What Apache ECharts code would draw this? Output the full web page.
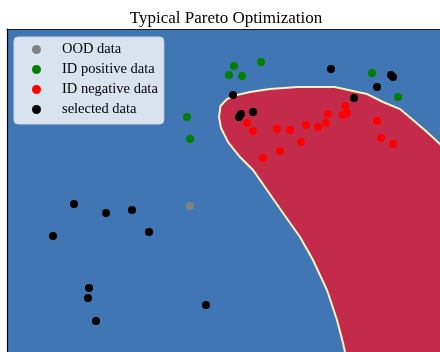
<!DOCTYPE html>
<html>
<head>
<meta charset="utf-8">
<script src="https://cdn.jsdelivr.net/npm/echarts@6/dist/echarts.min.js"></script>
<style>
  html, body { margin: 0; padding: 0; background: #ffffff; }
  #chart { width: 440px; height: 352px; }
</style>
</head>
<body>
<div id="chart"></div>
<script>
// Sample groups in feature space [x, y]
const oodData = [[3.66, 3.46]];

const idPositive = [
  [4.54, 6.26], [5.08, 6.34], [4.44, 6.08], [4.70, 6.06],
  [3.60, 5.24], [3.66, 4.80], [7.30, 6.12], [7.82, 5.64]
];

const idNegative = [
  [4.80, 5.12], [4.92, 4.96], [5.40, 5.00], [5.66, 4.98], [5.98, 5.08],
  [6.22, 5.04], [6.38, 5.12], [6.42, 5.30], [6.76, 5.46], [6.80, 5.32],
  [6.72, 5.28], [5.88, 4.74], [5.46, 4.56], [5.12, 4.42], [7.40, 5.16],
  [7.48, 4.82], [7.72, 4.70]
];

const selected = [
  [1.34, 3.50], [1.98, 3.32], [2.50, 3.38], [0.92, 2.86], [2.84, 2.94],
  [1.64, 1.82], [1.62, 1.62], [1.78, 1.16], [3.98, 1.48],
  [6.48, 6.20], [4.52, 5.68], [4.64, 5.24], [4.68, 5.30], [4.92, 5.34],
  [6.94, 5.62], [7.40, 5.84], [7.68, 6.08], [7.72, 6.04]
];

// Decision region (negative class) outline
const regionOutline = [
  [6.86, 0.00], [6.76, 0.54], [6.72, 0.72], [6.60, 1.18], [6.40, 1.78],
  [6.12, 2.38], [5.86, 2.84], [5.52, 3.32], [5.20, 3.78], [4.92, 4.18],
  [4.66, 4.44], [4.42, 4.74], [4.28, 5.02], [4.24, 5.24], [4.27, 5.46],
  [4.40, 5.60], [4.60, 5.68], [4.86, 5.74], [5.26, 5.80], [5.80, 5.84],
  [6.56, 5.84], [6.92, 5.76], [7.20, 5.70], [7.52, 5.54], [7.86, 5.40],
  [8.12, 5.18], [8.40, 4.94], [8.66, 4.70], [9.06, 4.38], [9.20, 4.24],
  [9.20, 0.00]
];

// Visible window of the feature space
const xRange = [0, 8.66];
const yRange = [0.54, 7];

const legendNames = ['OOD data', 'ID positive data', 'ID negative data', 'selected data'];

const chart = echarts.init(document.getElementById('chart'), null, { renderer: 'canvas' });

const serif = '"Liberation Serif", "DejaVu Serif", "Times New Roman", serif';

function scatter(name, data, color) {
  return {
    name: name,
    type: 'scatter',
    data: data,
    symbol: 'circle',
    symbolSize: 8,
    itemStyle: { color: color, opacity: 1 },
    z: 5,
    silent: true
  };
}

chart.setOption({
  animation: false,
  backgroundColor: '#ffffff',
  title: {
    text: 'Typical Pareto Optimization',
    left: 221,
    textAlign: 'center',
    top: 5,
    textStyle: { fontFamily: serif, fontSize: 17, fontWeight: 'normal', color: '#000' }
  },
  grid: { left: 7, top: 29, right: 0, bottom: 0, backgroundColor: '#3f76b3', show: true, borderWidth: 0 },
  xAxis: {
    type: 'value', min: xRange[0], max: xRange[1], position: 'top',
    axisLine: { show: true, lineStyle: { color: '#1b1b1b', width: 1.2 } },
    axisTick: { show: false }, axisLabel: { show: false }, splitLine: { show: false }
  },
  yAxis: {
    type: 'value', min: yRange[0], max: yRange[1],
    axisLine: { show: true, lineStyle: { color: '#000', width: 1.2 } },
    axisTick: { show: false }, axisLabel: { show: false }, splitLine: { show: false }
  },
  legend: {
    data: legendNames,
    orient: 'vertical',
    left: 14, top: 37,
    padding: [5, 6, 7, 18],
    itemGap: 5,
    itemWidth: 25, itemHeight: 9,
    icon: 'circle',
    backgroundColor: 'rgba(255,255,255,0.8)',
    borderColor: '#cfd6de', borderWidth: 1, borderRadius: 4,
    textStyle: { fontFamily: serif, fontSize: 14.5, color: '#000', lineHeight: 15, padding: [0, 0, 0, 8] },
    selectedMode: false
  },
  series: [
    {
      type: 'custom',
      name: 'region',
      silent: true,
      clip: true,
      z: 1,
      data: [0],
      renderItem: function (params, api) {
        const pts = regionOutline.map(p => api.coord(p));
        return {
          type: 'polygon',
          shape: { points: pts },
          style: { fill: '#c42b4b', stroke: '#f6f2c2', lineWidth: 2 }
        };
      }
    },
    scatter('OOD data', oodData, '#808080'),
    scatter('ID positive data', idPositive, '#008000'),
    scatter('ID negative data', idNegative, '#ff0000'),
    scatter('selected data', selected, '#000000')
  ]
});
</script>
</body>
</html>
